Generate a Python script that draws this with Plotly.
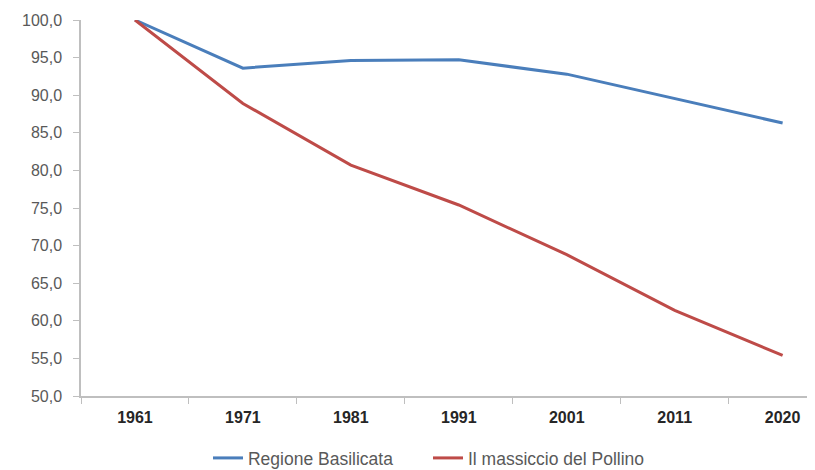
import plotly.graph_objects as go

years = ["1961", "1971", "1981", "1991", "2001", "2011", "2020"]
basilicata = [100.0, 93.6, 94.6, 94.7, 92.8, 89.6, 86.3]
pollino = [100.0, 88.9, 80.7, 75.4, 68.8, 61.4, 55.4]
y_ticks = [50, 55, 60, 65, 70, 75, 80, 85, 90, 95, 100]
y_labels = [f"{v:.1f}".replace(".", ",") for v in y_ticks]

fig = go.Figure()
fig.add_trace(go.Scatter(x=years, y=basilicata, mode="lines", name="Regione Basilicata",
                         line=dict(color="#4A7EBB", width=3), cliponaxis=False))
fig.add_trace(go.Scatter(x=years, y=pollino, mode="lines", name="Il massiccio del Pollino",
                         line=dict(color="#BE4B48", width=3), cliponaxis=False))

# page body has an 8px margin, so the figure is sized to fill the rest of the window
fig.update_layout(
    width=807, height=462,
    margin=dict(l=73, r=0, t=12, b=74, autoexpand=False),
    paper_bgcolor="white", plot_bgcolor="white",
    font=dict(family="Liberation Sans, Arial, sans-serif", size=16, color="#595959"),
    showlegend=True,
    legend=dict(orientation="h", x=0.173, xanchor="left", y=-0.165, yanchor="middle",
                font=dict(size=17.5, color="#595959"), tracegroupgap=0,
                entrywidth=175, entrywidthmode="pixels"),
)
fig.update_xaxes(
    type="category", range=[-0.5, 6.3], automargin=False,
    showline=True, linecolor="#BFBFBF", linewidth=1.5,
    ticks="outside", tickson="boundaries", ticklen=6, tickcolor="#BFBFBF",
    showgrid=False, zeroline=False,
    tickfont=dict(size=16, color="#262626", family="Liberation Sans, Arial, sans-serif"),
    ticklabelstandoff=6,
)
fig.update_xaxes(tickvals=years, ticktext=[f"<b>{y}</b>" for y in years])
fig.update_yaxes(
    range=[50, 100], tickvals=y_ticks, ticktext=y_labels, automargin=False,
    showline=True, linecolor="#BFBFBF", linewidth=1.5,
    ticks="outside", ticklen=6, tickcolor="#BFBFBF",
    showgrid=False, zeroline=False,
    tickfont=dict(size=16, color="#595959"),
    ticklabelstandoff=8,
)

fig.write_html("out.html")
